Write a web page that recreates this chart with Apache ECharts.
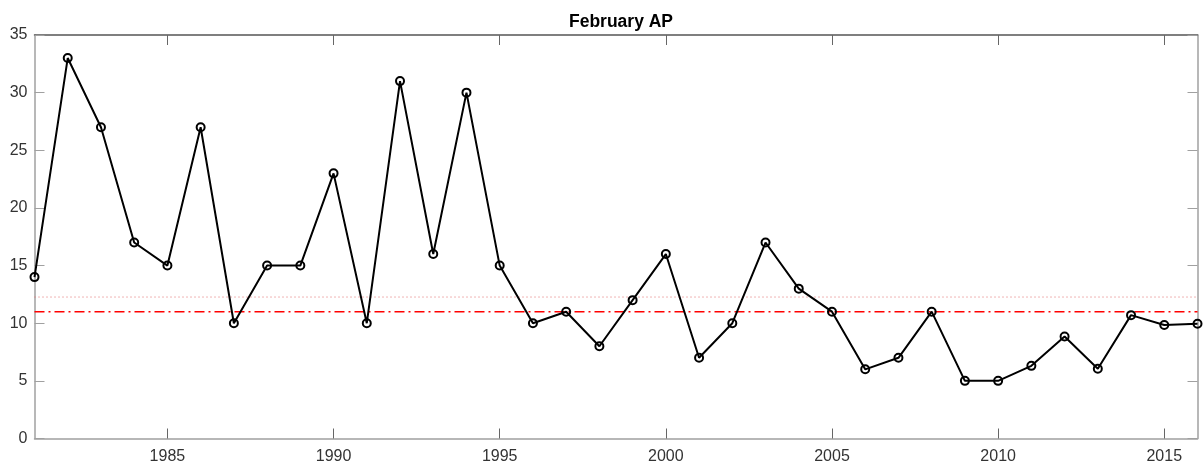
<!DOCTYPE html>
<html>
<head>
<meta charset="utf-8">
<script src="https://cdn.jsdelivr.net/npm/echarts@6/dist/echarts.min.js"></script>
<style>html,body{margin:0;padding:0;background:#fff;}#c{width:1203px;height:468px;}</style>
</head>
<body>
<div id="c"></div>
<script>
const years = [1981,1982,1983,1984,1985,1986,1987,1988,1989,1990,1991,1992,1993,1994,1995,1996,1997,1998,1999,2000,2001,2002,2003,2004,2005,2006,2007,2008,2009,2010,2011,2012,2013,2014,2015,2016];
const values = [14,33,27,17,15,27,10,15,15,23,10,31,16,30,15,10,11,8,12,16,7,10,17,13,11,6,7,11,5,5,6.3,8.85,6.05,10.7,9.85,9.95];
const xTicks = [1985,1990,1995,2000,2005,2010,2015];
const medianLevel = 11;
const meanLevel = 12.27;
const titleText = 'February AP';

const chart = echarts.init(document.getElementById('c'), null, {renderer:'canvas'});
const axisGray = '#a0a0a0';
const textColor = '#333333';
const font = 'Liberation Sans, Arial, Helvetica, sans-serif';
const xMin = years[0], xMax = years[years.length-1];
chart.setOption({
  animation:false,
  title:{text:titleText,left:616,textAlign:'center',top:8,textStyle:{fontFamily:font,fontSize:17.5,fontWeight:'bold',color:'#000'}},
  grid:{left:34.5,right:5.5,top:35,bottom:29.5,containLabel:false},
  xAxis:[{
    type:'value',min:xMin,max:xMax,position:'bottom',
    axisLine:{show:true,onZero:false,lineStyle:{color:axisGray,width:1.5}},
    axisTick:{show:true,inside:true,length:10,customValues:xTicks,lineStyle:{color:'#666',width:1}},
    axisLabel:{show:true,customValues:xTicks,formatter:v=>String(v),color:textColor,fontFamily:font,fontSize:16,margin:10},
    splitLine:{show:false}
  },{
    type:'value',min:xMin,max:xMax,position:'top',
    axisLine:{show:true,onZero:false,lineStyle:{color:'#555',width:1.5}},
    axisTick:{show:true,inside:true,length:10,customValues:xTicks,lineStyle:{color:'#666',width:1}},
    axisLabel:{show:false},splitLine:{show:false}
  }],
  yAxis:[{
    type:'value',min:0,max:35,interval:5,position:'left',
    axisLine:{show:true,onZero:false,lineStyle:{color:axisGray,width:1.5}},
    axisTick:{show:true,inside:true,length:10,lineStyle:{color:axisGray,width:1}},
    axisLabel:{show:true,color:textColor,fontFamily:font,fontSize:16,margin:7},
    splitLine:{show:false}
  },{
    type:'value',min:0,max:35,interval:5,position:'right',
    axisLine:{show:true,onZero:false,lineStyle:{color:axisGray,width:1.5}},
    axisTick:{show:true,inside:true,length:10,lineStyle:{color:axisGray,width:1}},
    axisLabel:{show:false},splitLine:{show:false}
  }],
  series:[{
    type:'line',
    data:[[xMin,meanLevel],[xMax,meanLevel]],
    symbol:'none',silent:true,z:1,
    lineStyle:{color:'#e06a6a',type:[1,3],width:1}
  },{
    type:'line',
    data:[[xMin,medianLevel],[xMax,medianLevel]],
    symbol:'none',silent:true,z:2,
    lineStyle:{color:'#ff0000',type:[10,4,2,4],width:1.5}
  },{
    type:'line',
    data:years.map((y,i)=>[y,values[i]]),
    symbol:'circle',symbolSize:8,showSymbol:true,
    itemStyle:{color:'rgba(255,255,255,0)',borderColor:'#000',borderWidth:2},
    lineStyle:{color:'#000',width:2},
    z:5
  }]
});
</script>
</body>
</html>
